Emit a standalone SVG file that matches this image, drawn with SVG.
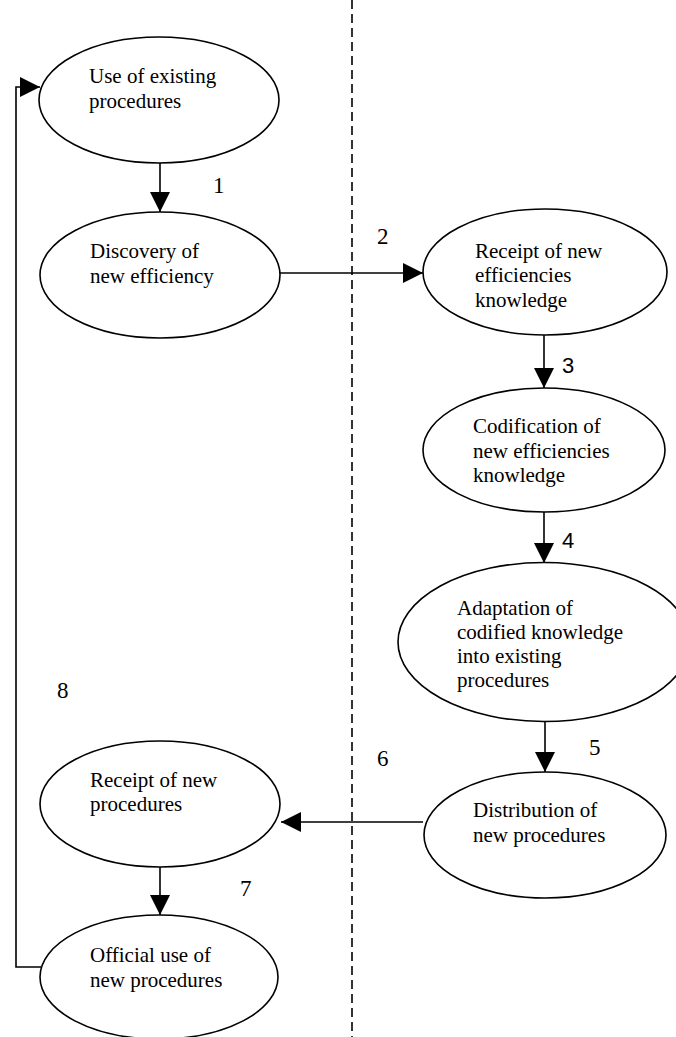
<svg xmlns="http://www.w3.org/2000/svg" width="676" height="1037" viewBox="0 0 676 1037">
<style>
.node ellipse{fill:#fff;stroke:#000;stroke-width:1.6}
.t{font-family:"Liberation Serif","Times New Roman",serif;font-size:21px;fill:#000}
.lbl{font-family:"Liberation Serif","Times New Roman",serif;font-size:23px;fill:#000}
.lbls{font-family:"Liberation Sans",Arial,sans-serif;font-size:22px;fill:#000}
.c{fill:none;stroke:#000;stroke-width:1.6}
</style>
<defs>
<marker id="ah" viewBox="0 0 20 20" refX="20" refY="10" markerWidth="20" markerHeight="20" markerUnits="userSpaceOnUse" orient="auto">
<path d="M0,0 L20,10 L0,20 z" fill="#000"/>
</marker>
</defs>
<line x1="352" y1="0" x2="352" y2="1037" stroke="#000" stroke-width="1.6" stroke-dasharray="9,5"/>
<g id="connectors">
<line class="c" x1="160" y1="163" x2="160" y2="212" marker-end="url(#ah)"/>
<line class="c" x1="280" y1="273" x2="423" y2="273" marker-end="url(#ah)"/>
<line class="c" x1="544" y1="335" x2="544" y2="388" marker-end="url(#ah)"/>
<line class="c" x1="544" y1="512" x2="544" y2="563" marker-end="url(#ah)"/>
<line class="c" x1="545" y1="722" x2="545" y2="772" marker-end="url(#ah)"/>
<line class="c" x1="423" y1="822" x2="281" y2="822" marker-end="url(#ah)"/>
<line class="c" x1="160" y1="867" x2="160" y2="915" marker-end="url(#ah)"/>
<polyline class="c" points="41,967 16,967 16,87 40,87" stroke-width="2" marker-end="url(#ah)"/>
<text class="lbl" x="213" y="193">1</text>
<text class="lbl" x="377" y="244">2</text>
<text class="lbls" x="562" y="373">3</text>
<text class="lbls" x="562" y="548">4</text>
<text class="lbl" x="589" y="755">5</text>
<text class="lbl" x="377" y="766">6</text>
<text class="lbl" x="240" y="896">7</text>
<text class="lbl" x="57" y="698">8</text>
</g>
<g id="n1" class="node">
<ellipse cx="159" cy="100" rx="120" ry="63"/>
<text class="t" x="89" y="83">Use of existing</text>
<text class="t" x="89" y="108">procedures</text>
</g>
<g id="n2" class="node">
<ellipse cx="160" cy="275" rx="120" ry="63"/>
<text class="t" x="90" y="258">Discovery of</text>
<text class="t" x="90" y="283">new efficiency</text>
</g>
<g id="n3" class="node">
<ellipse cx="545" cy="272" rx="122" ry="63"/>
<text class="t" x="475" y="258">Receipt of new</text>
<text class="t" x="475" y="282">efficiencies</text>
<text class="t" x="475" y="307">knowledge</text>
</g>
<g id="n4" class="node">
<ellipse cx="544" cy="450" rx="121" ry="62"/>
<text class="t" x="473" y="433">Codification of</text>
<text class="t" x="473" y="458">new efficiencies</text>
<text class="t" x="473" y="482">knowledge</text>
</g>
<g id="n5" class="node">
<ellipse cx="544" cy="642" rx="146" ry="79.5"/>
<text class="t" x="457" y="615">Adaptation of</text>
<text class="t" x="457" y="639">codified knowledge</text>
<text class="t" x="457" y="663">into existing</text>
<text class="t" x="457" y="687">procedures</text>
</g>
<g id="n6" class="node">
<ellipse cx="545" cy="835" rx="121" ry="63"/>
<text class="t" x="473" y="817">Distribution of</text>
<text class="t" x="473" y="842">new procedures</text>
</g>
<g id="n7" class="node">
<ellipse cx="160" cy="804" rx="120" ry="63"/>
<text class="t" x="90" y="787">Receipt of new</text>
<text class="t" x="90" y="811">procedures</text>
</g>
<g id="n8" class="node">
<ellipse cx="159" cy="977" rx="119" ry="62"/>
<text class="t" x="90" y="962">Official use of</text>
<text class="t" x="90" y="987">new procedures</text>
</g>
</svg>
